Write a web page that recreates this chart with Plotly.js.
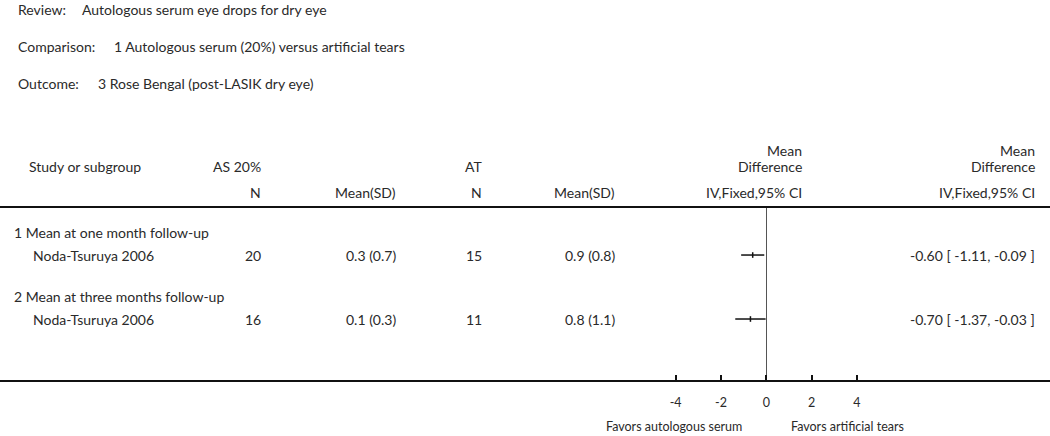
<!DOCTYPE html>
<html>
<head>
<meta charset="utf-8">
<script src="https://cdn.plot.ly/plotly-3.0.1.min.js"></script>
<style>
  html, body { margin: 0; padding: 0; background: #fff; }
  #graph { width: 1050px; height: 436px; }
</style>
</head>
<body>
<div id="graph"></div>
<script>
// forest plot data
var reviewTitle = 'Autologous serum eye drops for dry eye';
var comparisonTitle = '1 Autologous serum (20%) versus artificial tears';
var outcomeTitle = '3 Rose Bengal (post-LASIK dry eye)';

var subgroups = ['1 Mean at one month follow-up', '2 Mean at three months follow-up'];
var studies = ['Noda-Tsuruya 2006', 'Noda-Tsuruya 2006'];
var asN = [20, 16];
var asMean = [0.3, 0.1];
var asSD = [0.7, 0.3];
var atN = [15, 11];
var atMean = [0.9, 0.8];
var atSD = [0.8, 1.1];
var md = [-0.60, -0.70];
var ciLo = [-1.11, -1.37];
var ciHi = [-0.09, -0.03];
var tickVals = [-4, -2, 0, 2, 4];

var W = 1050, H = 436;
var FONT = 'Lato, "Open Sans", sans-serif';
var TXT = '#2a2a2a';
var FS = 14;

// pixel helpers for the table text
function px(x) { return x / W; }
function py(y) { return 1 - y / H; }

// row positions (in y axis units)
var subRow = [0, 2.78];
var studyRow = [1, 3.78];

var annotations = [];
function txt(text, x, y, anchor, yref) {
	annotations.push({
		text: text, x: x, y: y, xref: 'paper', yref: yref || 'paper',
		xanchor: anchor || 'left', yanchor: 'middle', showarrow: false,
		font: {family: FONT, size: FS, color: TXT}
	});
}

// heading lines
txt('Review:', px(16), py(9));
txt(reviewTitle, px(80), py(9));
txt('Comparison:', px(16), py(46));
txt(comparisonTitle, px(112), py(46));
txt('Outcome:', px(16), py(84));
txt(outcomeTitle, px(96), py(84));

// column headers
txt('Study or subgroup', px(27), py(166));
txt('AS 20%', px(263), py(166), 'right');
txt('N', px(263), py(193), 'right');
txt('Mean(SD)', px(398), py(193), 'right');
txt('AT', px(484), py(166), 'right');
txt('N', px(484), py(193), 'right');
txt('Mean(SD)', px(617), py(193), 'right');
txt('Mean', px(804), py(150), 'right');
txt('Difference', px(804), py(166), 'right');
txt('IV,Fixed,95% CI', px(804), py(193), 'right');
txt('Mean', px(1037), py(150), 'right');
txt('Difference', px(1037), py(166), 'right');
txt('IV,Fixed,95% CI', px(1037), py(193), 'right');

function f2(v) { return v.toFixed(2); }

for (var i = 0; i < studies.length; i++) {
	txt(subgroups[i], px(12), subRow[i], 'left', 'y');
	txt(studies[i], px(31), studyRow[i], 'left', 'y');
	txt(String(asN[i]), px(263), studyRow[i], 'right', 'y');
	txt(asMean[i] + ' (' + asSD[i] + ')', px(398), studyRow[i], 'right', 'y');
	txt(String(atN[i]), px(484), studyRow[i], 'right', 'y');
	txt(atMean[i] + ' (' + atSD[i] + ')', px(617), studyRow[i], 'right', 'y');
	txt(f2(md[i]) + ' [ ' + f2(ciLo[i]) + ', ' + f2(ciHi[i]) + ' ]', px(1037), studyRow[i], 'right', 'y');
}

// favours labels under the axis
annotations.push({
	text: 'Favors autologous serum', x: -1, y: py(426), xref: 'x', yref: 'paper',
	xanchor: 'right', yanchor: 'middle', showarrow: false,
	font: {family: FONT, size: 12.5, color: TXT}
});
annotations.push({
	text: 'Favors artificial tears', x: 1, y: py(426), xref: 'x', yref: 'paper',
	xanchor: 'left', yanchor: 'middle', showarrow: false,
	font: {family: FONT, size: 12.5, color: TXT}
});

var forest = {
	x: md,
	y: studyRow,
	type: 'scatter',
	mode: 'markers',
	marker: {symbol: 'line-ns', size: 4, line: {color: '#111', width: 1.5}},
	error_x: {
		type: 'data', symmetric: false,
		array: md.map(function (m, k) { return ciHi[k] - m; }),
		arrayminus: md.map(function (m, k) { return m - ciLo[k]; }),
		color: '#111', thickness: 1.5, width: 0
	},
	hoverinfo: 'skip',
	showlegend: false
};

// 0 at x=766px, 22.66 px per unit
var zeroPx = 766.3, unitPx = 22.66;

var layout = {
	width: W,
	height: H,
	margin: {l: 0, r: 0, t: 0, b: 0},
	paper_bgcolor: '#fff',
	plot_bgcolor: '#fff',
	showlegend: false,
	xaxis: {
		range: [-zeroPx / unitPx, (W - zeroPx) / unitPx],
		domain: [0, 1],
		showgrid: false,
		zeroline: true,
		zerolinecolor: '#555',
		zerolinewidth: 1,
		showline: true,
		linecolor: '#111',
		linewidth: 2,
		ticks: 'inside',
		ticklen: 5,
		tickwidth: 2,
		tickcolor: '#111',
		tickvals: tickVals,
		ticktext: tickVals.map(String),
		ticklabelstandoff: 10,
		tickfont: {family: FONT, size: 12.5, color: TXT},
		fixedrange: true
	},
	yaxis: {
		domain: [py(380), py(207)],
		range: [6.43, -1.087],
		visible: false,
		fixedrange: true
	},
	shapes: [{
		type: 'line', xref: 'paper', yref: 'paper',
		x0: 0, x1: 1, y0: py(207), y1: py(207),
		line: {color: '#111', width: 2}
	}],
	annotations: annotations
};

Plotly.newPlot('graph', [forest], layout, {displayModeBar: false, staticPlot: true});
</script>
</body>
</html>
